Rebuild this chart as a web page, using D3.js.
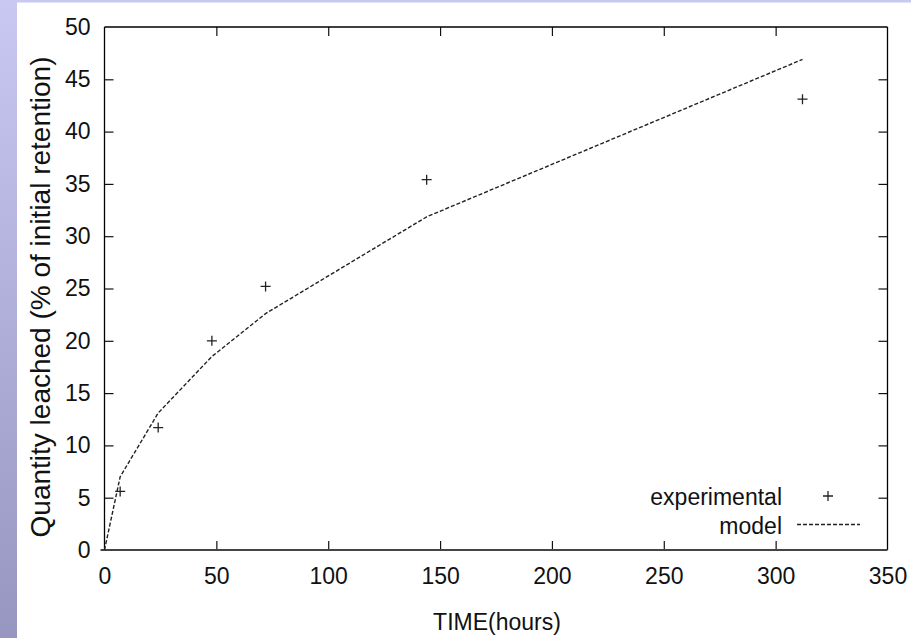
<!DOCTYPE html>
<html>
<head>
<meta charset="utf-8">
<script src="https://cdn.jsdelivr.net/npm/d3@7"></script>
<style>
  html, body { margin: 0; padding: 0; background: #fff; }
  svg { display: block; }
  text { font-family: "Liberation Sans", Arial, sans-serif; fill: #111; }
</style>
</head>
<body>
<svg id="chart" width="911" height="638"></svg>
<script>
// Leaching time (hours) and measured quantity leached (% of initial retention)
const timeHours = [7, 24, 48, 72, 144, 312];
const experimental = [5.6, 11.7, 20.0, 25.2, 35.4, 43.1];

// Model curve
const modelTime = [0, 7, 24, 48, 72, 144, 312];
const modelValue = [0, 7.0, 13.1, 18.5, 22.6, 31.85, 46.9];

const xTicks = [0, 50, 100, 150, 200, 250, 300, 350];
const yTicks = [0, 5, 10, 15, 20, 25, 30, 35, 40, 45, 50];

const seriesLabels = ["experimental", "model"];
const xTitle = "TIME(hours)";
const yTitle = "Quantity leached (% of initial retention)";

const W = 911, H = 638;
const plotL = 104.5, plotR = 887.5, plotT = 27, plotB = 550;

const svg = d3.select("#chart");

// slide-style lavender border
const grad = svg.append("defs").append("linearGradient")
  .attr("id", "edge").attr("x1", 0).attr("y1", 0).attr("x2", 0).attr("y2", 1);
grad.append("stop").attr("offset", "0%").attr("stop-color", "#c8c8f2");
grad.append("stop").attr("offset", "100%").attr("stop-color", "#9696c0");
svg.append("rect").attr("x", 0).attr("y", 0).attr("width", W).attr("height", 2.5).attr("fill", "#c8c8f2");
svg.append("rect").attr("x", 0).attr("y", 0).attr("width", 17).attr("height", H).attr("fill", "url(#edge)");

const x = d3.scaleLinear().domain([0, 350]).range([plotL, plotR]);
const y = d3.scaleLinear().domain([0, 50]).range([plotB, plotT]);

const tickLen = 9;

// inward ticks on all four sides, labels on left and bottom
const axBottom = d3.axisBottom(x).tickValues(xTicks).tickSize(-tickLen).tickPadding(18).tickFormat(d3.format("d"));
const axTop = d3.axisTop(x).tickValues(xTicks.slice(1, -1)).tickSize(-tickLen).tickFormat("");
const axLeft = d3.axisLeft(y).tickValues(yTicks).tickSize(-tickLen).tickPadding(14).tickFormat(d3.format("d"));
const axRight = d3.axisRight(y).tickValues(yTicks.slice(1, -1)).tickSize(-tickLen).tickFormat("");

function style(g) {
  g.select(".domain").remove();
  g.selectAll(".tick line").attr("stroke", "#111").attr("stroke-width", 1.2);
  g.selectAll(".tick text").attr("font-size", 23).attr("fill", "#111")
    .attr("font-family", "Liberation Sans, Arial, sans-serif");
}

const gB = svg.append("g").attr("transform", `translate(0,${plotB})`).call(axBottom).call(style);
gB.selectAll(".tick text").attr("dy", "0.71em");
gB.selectAll(".tick").filter(d => d === 0 || d === 350).select("line").remove();
svg.append("g").attr("transform", `translate(0,${plotT})`).call(axTop).call(style);
const gL = svg.append("g").attr("transform", `translate(${plotL},0)`).call(axLeft).call(style);
gL.selectAll(".tick").filter(d => d === 0 || d === 50).select("line").remove();
svg.append("g").attr("transform", `translate(${plotR},0)`).call(axRight).call(style);

// frame
svg.append("line").attr("x1", plotL).attr("x2", plotL).attr("y1", plotT).attr("y2", plotB)
  .attr("stroke", "#000").attr("stroke-width", 1.3);
svg.append("line").attr("x1", plotL).attr("x2", plotR).attr("y1", plotT).attr("y2", plotT)
  .attr("stroke", "#000").attr("stroke-width", 1.3);
svg.append("line").attr("x1", plotR).attr("x2", plotR).attr("y1", plotT).attr("y2", plotB)
  .attr("stroke", "#000").attr("stroke-width", 1.3);
svg.append("line").attr("x1", plotL - 4).attr("x2", plotR).attr("y1", plotB).attr("y2", plotB)
  .attr("stroke", "#444").attr("stroke-width", 2.2);

// model curve
const line = d3.line().x((d, i) => x(modelTime[i])).y(d => y(d));
svg.append("path").datum(modelValue).attr("d", line)
  .attr("fill", "none").attr("stroke", "#222").attr("stroke-width", 1.4)
  .attr("stroke-dasharray", "4,2");

// experimental points as plus markers
const plus = (cx, cy, r) => `M${cx - r},${cy}H${cx + r}M${cx},${cy - r}V${cy + r}`;
svg.append("g").selectAll("path").data(experimental).join("path")
  .attr("d", (d, i) => plus(x(timeHours[i]), y(d), 5))
  .attr("stroke", "#222").attr("stroke-width", 1.3).attr("fill", "none");

// legend
const lgX = 782;
svg.append("text").attr("x", lgX).attr("y", 505).attr("text-anchor", "end")
  .attr("font-size", 23).text(seriesLabels[0]);
svg.append("path").attr("d", plus(828, 496, 5)).attr("stroke", "#222").attr("stroke-width", 1.3);
svg.append("text").attr("x", lgX).attr("y", 534).attr("text-anchor", "end")
  .attr("font-size", 23).text(seriesLabels[1]);
svg.append("line").attr("x1", 797).attr("x2", 860).attr("y1", 524.5).attr("y2", 524.5)
  .attr("stroke", "#222").attr("stroke-width", 1.4).attr("stroke-dasharray", "4,2");

// axis titles
svg.append("text").attr("x", (plotL + plotR) / 2 + 1).attr("y", 630).attr("text-anchor", "middle")
  .attr("font-size", 23).text(xTitle);
svg.append("text").attr("transform", "translate(50,297) rotate(-90)").attr("text-anchor", "middle")
  .attr("font-size", 28).text(yTitle);
</script>
</body>
</html>
